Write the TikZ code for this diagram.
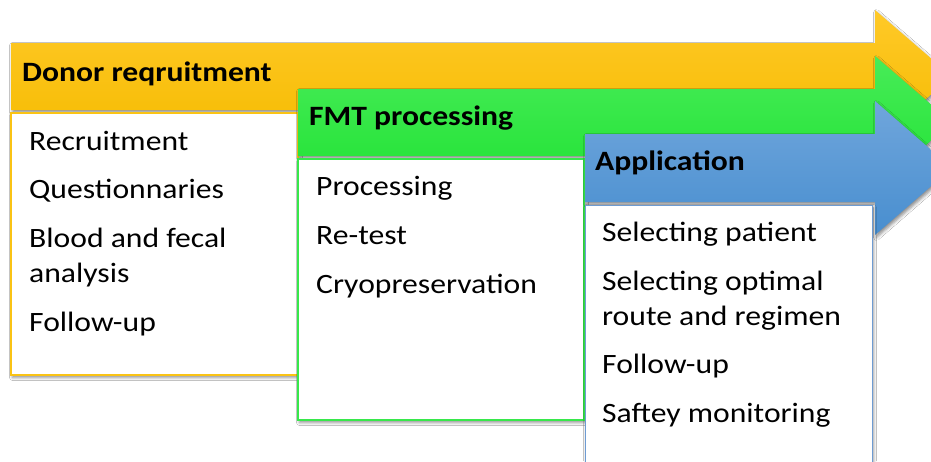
\documentclass[tikz,border=0pt]{standalone}
\usepackage{fontspec}
\setmainfont[FakeStretch=1.13]{Carlito}
\usetikzlibrary{shadows.blur}

\definecolor{ylwTop}{RGB}{255,201,40}
\definecolor{ylwBot}{RGB}{245,187,0}
\definecolor{ylwLine}{RGB}{250,195,20}
\definecolor{grnTop}{RGB}{72,236,88}
\definecolor{grnBot}{RGB}{32,226,52}
\definecolor{grnLine}{RGB}{55,232,75}
\definecolor{bluTop}{RGB}{112,166,220}
\definecolor{bluBot}{RGB}{72,142,207}
\definecolor{bluLine}{RGB}{110,155,210}

\tikzset{
  soft/.style={blur shadow={shadow xshift=1.5pt, shadow yshift=-2.5pt, shadow blur radius=3pt, shadow opacity=45}},
  ylwarrow/.style={soft, top color=ylwTop, bottom color=ylwBot},
  grnarrow/.style={soft, top color=grnTop, bottom color=grnBot},
  bluarrow/.style={soft, top color=bluTop, bottom color=bluBot},
  panel/.style={soft, fill=white, line width=1.3pt},
  headtext/.style={anchor=base west, inner sep=0pt, font=\fontsize{28}{34}\selectfont\bfseries},
  itemtext/.style={anchor=base west, inner sep=0pt, font=\fontsize{28}{34}\selectfont},
}

\begin{document}
\begin{tikzpicture}[x=1pt, y=-1pt]
  \clip (0,0) rectangle (931,461);
  \fill[white] (0,0) rectangle (931,461);

  % stage 1: donor recruitment
  \path[ylwarrow] (11,43) -- (875,43) -- (875,10) -- (952,76.5) -- (875,143) -- (875,110) -- (11,110) -- cycle;
  \path[panel, draw=ylwLine] (11,113) rectangle (298,375);
  \node[headtext] (h1) at (22,81) {Donor reqruitment};
  \node[itemtext] (a1) at (29,150) {Recruitment};
  \node[itemtext] (a2) at (29,198) {Questionnaries};
  \node[itemtext] (a3) at (29,247) {Blood and fecal};
  \node[itemtext] (a4) at (29,282) {analysis};
  \node[itemtext] (a5) at (29,331) {Follow-up};

  % stage 2: FMT processing
  \path[grnarrow] (298,89) -- (875,89) -- (875,56) -- (952,122.5) -- (875,189) -- (875,156) -- (298,156) -- cycle;
  \path[panel, draw=grnLine] (298,159) rectangle (584,420);
  \node[headtext] (h2) at (309,125) {FMT processing};
  \node[itemtext] (b1) at (316,195) {Processing};
  \node[itemtext] (b2) at (316,244) {Re-test};
  \node[itemtext] (b3) at (316,293) {Cryopreservation};

  % stage 3: application
  \path[bluarrow] (585,134) -- (875,134) -- (875,101) -- (952,168) -- (875,235) -- (875,202) -- (585,202) -- cycle;
  \path[panel, draw=bluLine, line width=1pt] (585,205) rectangle (872,475);
  \node[headtext] (h3) at (595,170) {Application};
  \node[itemtext] (c1) at (602,241) {Selecting patient};
  \node[itemtext] (c2) at (602,290) {Selecting optimal};
  \node[itemtext] (c3) at (602,325) {route and regimen};
  \node[itemtext] (c4) at (602,373) {Follow-up};
  \node[itemtext] (c5) at (602,422) {Saftey monitoring};
\end{tikzpicture}
\end{document}
